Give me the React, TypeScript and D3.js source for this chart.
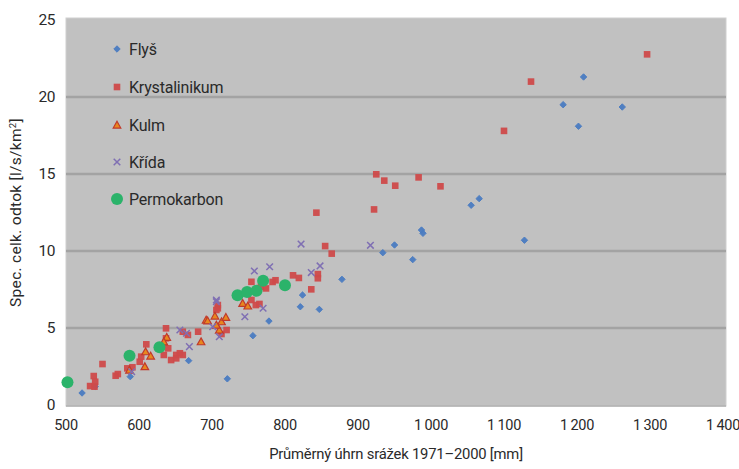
import React from "react";
import * as d3 from "d3";

const W = 739;
const H = 469;

const xTicks = [500, 600, 700, 800, 900, 1000, 1100, 1200, 1300, 1400];
const yTicks = [0, 5, 10, 15, 20, 25];

const seriesNames = ["Flyš", "Krystalinikum", "Kulm", "Křída", "Permokarbon"];

const flys: [number, number][] = [
  [1209, 21.3], [1181, 19.5], [1262, 19.35], [1202, 18.1], [1055, 12.97], [1066, 13.4],
  [1128, 10.7], [987, 11.36], [989, 11.15], [950, 10.39], [934, 9.89], [975, 9.44],
  [878, 8.16], [824, 7.14], [821, 6.38], [847, 6.21], [778, 5.45], [756, 4.5],
  [721, 1.7], [668, 2.88], [588, 1.84], [522, 0.78], [540, 1.19],
];

const krystalinikum: [number, number][] = [
  [1296, 22.77], [1137, 21.0], [1100, 17.8], [1013, 14.2], [925, 14.98], [936, 14.57],
  [951, 14.24], [983, 14.78], [843, 12.49], [922, 12.7], [855, 10.32], [864, 9.83],
  [845, 8.5], [845, 8.23], [811, 8.42], [819, 8.25], [783, 7.99], [787, 8.1],
  [836, 7.51], [754, 8.0], [774, 7.57], [767, 7.68], [754, 6.82], [760, 6.49],
  [765, 6.56], [708, 6.28], [708, 6.49], [720, 4.87], [713, 4.61], [706, 6.17],
  [681, 4.76], [660, 4.76], [667, 4.55], [637, 4.98], [637, 4.33], [640, 3.68],
  [634, 3.25], [644, 2.92], [651, 3.25], [656, 3.36], [660, 3.25], [651, 3.03],
  [610, 3.94], [601, 2.81], [603, 3.14], [584, 2.38], [591, 2.45], [568, 1.9],
  [571, 2.01], [550, 2.66], [533, 1.23], [538, 1.88], [540, 1.51], [539, 1.19],
];

const kulm: [number, number][] = [
  [742, 6.6], [749, 6.43], [692, 5.52], [704, 5.78], [713, 5.41], [719, 5.69],
  [710, 4.87], [685, 4.11], [694, 5.47], [706, 5.19], [609, 3.46], [616, 3.18],
  [608, 2.49], [587, 2.27], [638, 4.4], [634, 4.1],
];

const krida: [number, number][] = [
  [822, 10.45], [917, 10.37], [779, 8.98], [848, 9.03], [836, 8.6], [758, 8.7],
  [770, 6.28], [745, 5.73], [706, 6.82], [706, 6.71], [710, 4.43], [701, 5.08],
  [656, 4.87], [665, 4.66], [669, 3.79], [590, 2.16],
];

const permokarbon: [number, number][] = [
  [502, 1.47], [587, 3.2], [628, 3.75], [735, 7.12], [748, 7.34], [761, 7.42],
  [770, 8.07], [800, 7.78],
];

const COL_BLUE = "#4a7cc2";
const COL_RED = "#cf4a4a";
const COL_KULM_FILL = "#e8871e";
const COL_KULM_EDGE = "#c0392b";
const COL_KRIDA = "#7f6fb3";
const COL_GREEN = "#2bb36a";

const FONT = "Roboto, 'Noto Sans', sans-serif";

const left = 66;
const right = 726;
const top = 20;
const bottom = 405;

function Marker({ kind, x, y }: { kind: number; x: number; y: number }) {
  if (kind === 0) {
    const s = 3.2;
    return (
      <path
        d={`M${x},${y - s}L${x + s},${y}L${x},${y + s}L${x - s},${y}Z`}
        fill={COL_BLUE}
        stroke={COL_BLUE}
        strokeWidth={1}
        opacity={0.95}
      />
    );
  }
  if (kind === 1) {
    const s = 3.3;
    return <rect x={x - s} y={y - s} width={2 * s} height={2 * s} fill={COL_RED} opacity={0.95} />;
  }
  if (kind === 2) {
    const s = 3.8;
    return (
      <path
        d={`M${x},${y - s}L${x + s},${y + s * 0.8}L${x - s},${y + s * 0.8}Z`}
        fill={COL_KULM_FILL}
        stroke={COL_KULM_EDGE}
        strokeWidth={1.2}
      />
    );
  }
  if (kind === 3) {
    const s = 3.3;
    return (
      <path
        d={`M${x - s},${y - s}L${x + s},${y + s}M${x - s},${y + s}L${x + s},${y - s}`}
        stroke={COL_KRIDA}
        strokeWidth={1.5}
        fill="none"
      />
    );
  }
  return <circle cx={x} cy={y} r={6} fill={COL_GREEN} />;
}

export default function App() {
  const x = d3.scaleLinear().domain([500, 1400]).range([left, 723]);
  const y = d3.scaleLinear().domain([0, 25]).range([bottom, top]);

  const all = [flys, krystalinikum, kulm, krida, permokarbon];
  const legendY = [49, 87, 125, 162, 199];

  const fmt = (v: number) => (v >= 1000 ? `${Math.floor(v / 1000)}\u2009${String(v % 1000).padStart(3, "0")}` : `${v}`);

  return (
    <svg
      width={W}
      height={H}
      style={{ position: "absolute", left: 0, top: 0, background: "#fff" }}
      fontFamily={FONT}
    >
      <rect x={left} y={top - 2} width={right - left} height={bottom - top + 3} fill="#c1c1c1" stroke="#cfcfcf" strokeWidth={1} />
      {yTicks.filter((t) => t > 0 && t < 25).map((t) => (
        <line key={t} x1={left} x2={right} y1={y(t)} y2={y(t)} stroke="#a3a3a3" strokeWidth={2.5} />
      ))}
      <line x1={left} x2={right} y1={bottom + 1} y2={bottom + 1} stroke="#b0b0b0" strokeWidth={1.5} />

      {all.map((data, k) => (
        <g key={k}>
          {data.map((d, i) => (
            <Marker key={i} kind={k} x={x(d[0])} y={y(d[1])} />
          ))}
        </g>
      ))}

      {yTicks.map((t) => (
        <text key={t} x={55} y={y(t)} dy="0.35em" textAnchor="end" fontSize={15.5} fill="#2a2a2a" letterSpacing={-0.5}>
          {t}
        </text>
      ))}
      {xTicks.map((t) => (
        <text key={t} x={x(t)} y={430} textAnchor="middle" fontSize={14.5} fill="#2a2a2a" letterSpacing={-0.3}>
          {fmt(t)}
        </text>
      ))}

      <text x={396} y={459} textAnchor="middle" fontSize={14.8} fill="#2a2a2a" letterSpacing={-0.2}>
        Průměrný úhrn srážek 1971–2000 [mm]
      </text>
      <text
        transform={`translate(21,${(top + bottom) / 2}) rotate(-90)`}
        textAnchor="middle"
        fontSize={15.5}
        fill="#2a2a2a"
        letterSpacing={0.3}
      >
        Spec. celk. odtok [l/s/km<tspan dy={-5} fontSize={9.5}>2</tspan><tspan dy={5}>]</tspan>
      </text>

      {seriesNames.map((n, k) => (
        <g key={n}>
          <Marker kind={k} x={117} y={legendY[k]} />
          <text x={129} y={legendY[k]} dy="0.35em" fontSize={16} fill="#2a2a2a" letterSpacing={-0.2}>
            {n}
          </text>
        </g>
      ))}
    </svg>
  );
}
